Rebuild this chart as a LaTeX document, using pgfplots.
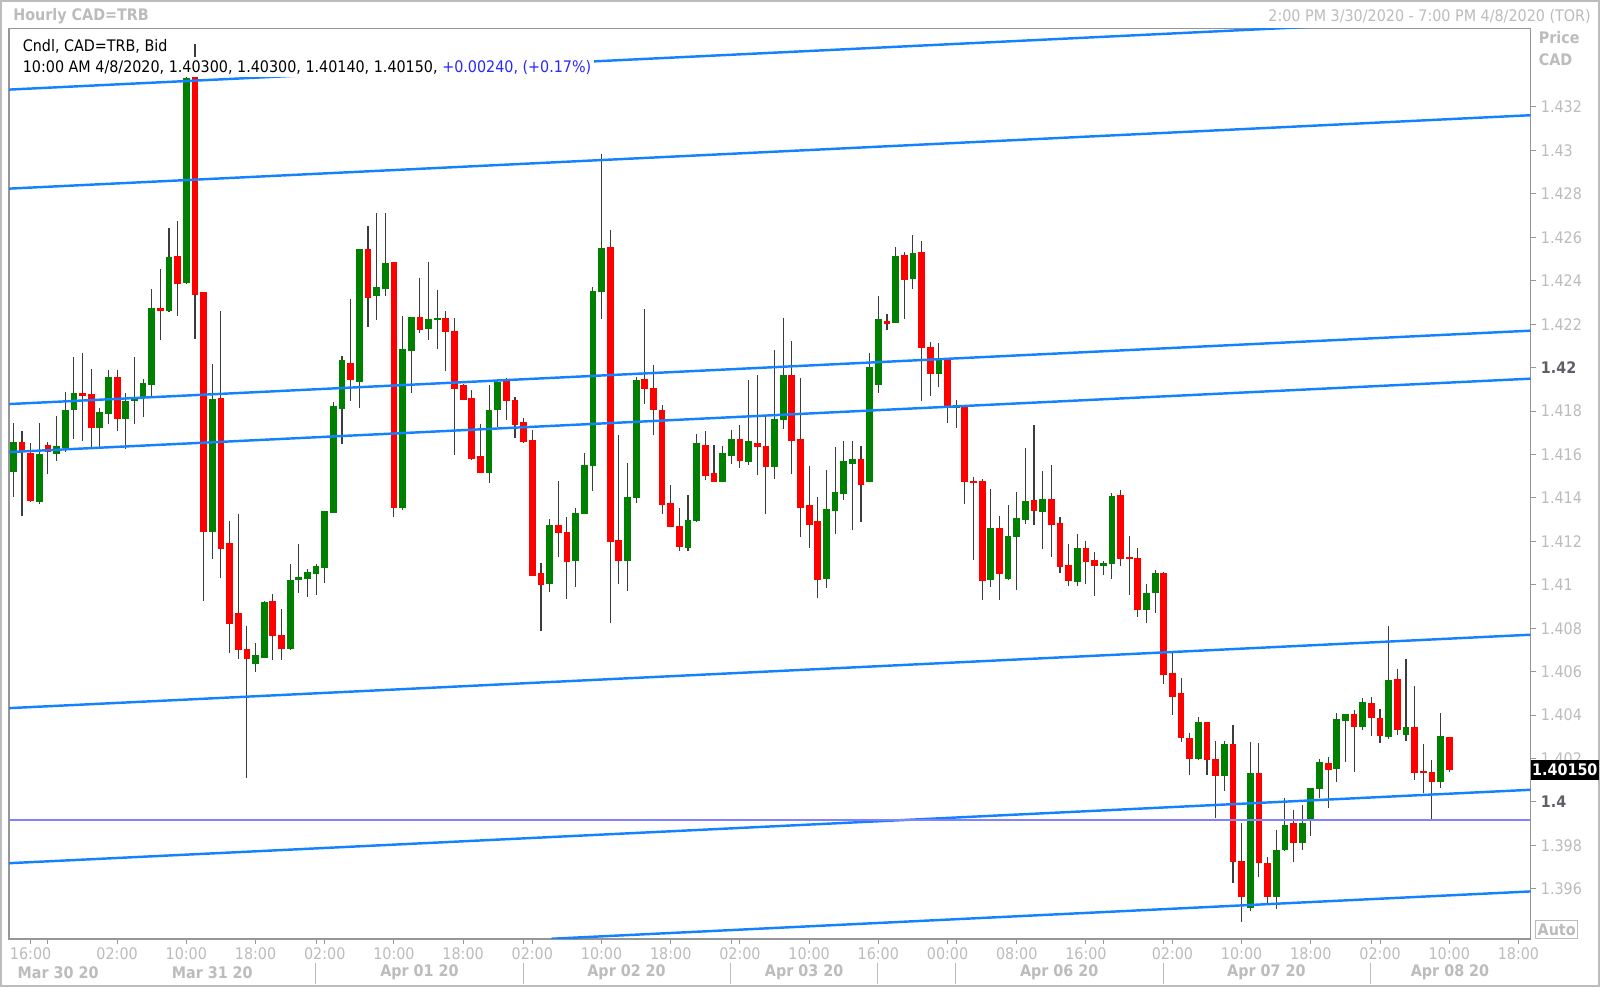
\documentclass[border=0pt]{standalone}
\usepackage{fontspec}
\setmainfont{DejaVu Sans}[FakeStretch=0.9]
\usepackage{pgfplots}
\usepackage{pgfplotstable}
\pgfplotsset{compat=1.18}
\definecolor{cgreen}{RGB}{0,128,0}
\definecolor{cred}{RGB}{255,0,0}
\definecolor{wick}{RGB}{60,60,60}
\definecolor{lblue}{RGB}{20,130,255}
\definecolor{lpurple}{RGB}{130,130,255}
\definecolor{lgray}{RGB}{188,188,188}
\definecolor{mgray}{RGB}{150,150,150}
\definecolor{dgray}{RGB}{95,95,105}
\definecolor{legblue}{RGB}{40,40,255}
\newcommand\sz{\fontsize{7.8pt}{9pt}\selectfont}

\pgfplotstableread{
x o h l c
0 1.41523 1.41745 1.41403 1.41658
1 1.41658 1.41708 1.41316 1.41614
2 1.41603 1.41651 1.41382 1.41388
3 1.41382 1.41745 1.41375 1.41599
4 1.41643 1.41658 1.41512 1.41614
5 1.41603 1.41779 1.41571 1.41638
6 1.41631 1.41888 1.41614 1.41805
7 1.41805 1.42049 1.41671 1.41881
8 1.41881 1.42066 1.41664 1.41873
9 1.41877 1.41994 1.41627 1.41725
10 1.41725 1.41816 1.41627 1.41795
11 1.41790 1.41990 1.41740 1.41955
12 1.41955 1.41990 1.41710 1.41766
13 1.41768 1.41882 1.41627 1.41847
14 1.41847 1.42049 1.41740 1.41860
15 1.41866 1.41947 1.41773 1.41929
16 1.41925 1.42364 1.41871 1.42275
17 1.42271 1.42457 1.42127 1.42264
18 1.42264 1.42642 1.42255 1.42507
19 1.42512 1.42675 1.42240 1.42388
20 1.42392 1.43340 1.42385 1.43333
21 1.43338 1.43490 1.42131 1.42338
22 1.42345 1.42345 1.40925 1.41247
23 1.41247 1.42016 1.41121 1.41853
24 1.41860 1.42262 1.41034 1.41169
25 1.41193 1.41295 1.40686 1.40821
26 1.40867 1.41327 1.40660 1.40704
27 1.40704 1.40812 1.40112 1.40660
28 1.40638 1.40735 1.40600 1.40673
29 1.40666 1.40927 1.40666 1.40919
30 1.40924 1.40956 1.40653 1.40767
31 1.40766 1.40888 1.40653 1.40707
32 1.40707 1.41096 1.40703 1.41019
33 1.41025 1.41188 1.40961 1.41034
34 1.41030 1.41071 1.40942 1.41056
35 1.41052 1.41096 1.40956 1.41083
36 1.41079 1.41341 1.41010 1.41337
37 1.41334 1.41842 1.41334 1.41820
38 1.41813 1.42054 1.41648 1.42035
39 1.42021 1.42319 1.41848 1.41943
40 1.41935 1.42545 1.41816 1.42545
41 1.42545 1.42655 1.42189 1.42324
42 1.42330 1.42711 1.42222 1.42370
43 1.42364 1.42714 1.42330 1.42483
44 1.42483 1.42483 1.41314 1.41355
45 1.41355 1.42238 1.41344 1.42084
46 1.42081 1.42235 1.41882 1.42230
47 1.42233 1.42413 1.42161 1.42173
48 1.42178 1.42486 1.42127 1.42222
49 1.42221 1.42357 1.42084 1.42229
50 1.42229 1.42262 1.41986 1.42167
51 1.42170 1.42229 1.41598 1.41905
52 1.41920 1.41923 1.41851 1.41855
53 1.41859 1.41897 1.41575 1.41582
54 1.41590 1.41743 1.41518 1.41518
55 1.41515 1.41920 1.41470 1.41805
56 1.41808 1.41951 1.41728 1.41935
57 1.41935 1.41955 1.41759 1.41848
58 1.41850 1.41866 1.41674 1.41740
59 1.41748 1.41771 1.41654 1.41659
60 1.41666 1.41712 1.41045 1.41045
61 1.41052 1.41099 1.40789 1.41003
62 1.41006 1.41306 1.40968 1.41275
63 1.41275 1.41479 1.41129 1.41240
64 1.41244 1.41313 1.40937 1.41106
65 1.41111 1.41352 1.40988 1.41332
66 1.41329 1.41608 1.41329 1.41551
67 1.41548 1.42373 1.41433 1.42349
68 1.42349 1.42984 1.42222 1.42549
69 1.42552 1.42634 1.40826 1.41201
70 1.41206 1.41689 1.41006 1.41114
71 1.41114 1.41559 1.40973 1.41402
72 1.41402 1.41955 1.41378 1.41943
73 1.41943 1.42273 1.41835 1.41904
74 1.41904 1.42012 1.41689 1.41808
75 1.41802 1.41828 1.41326 1.41372
76 1.41372 1.41459 1.41267 1.41267
77 1.41270 1.41352 1.41157 1.41175
78 1.41175 1.41413 1.41157 1.41298
79 1.41295 1.41694 1.41290 1.41651
80 1.41643 1.41709 1.41482 1.41505
81 1.41513 1.41643 1.41475 1.41475
82 1.41475 1.41639 1.41475 1.41605
83 1.41597 1.41715 1.41556 1.41669
84 1.41669 1.41735 1.41536 1.41574
85 1.41567 1.41943 1.41551 1.41659
86 1.41651 1.41966 1.41505 1.41639
87 1.41639 1.41782 1.41329 1.41547
88 1.41547 1.42084 1.41490 1.41764
89 1.41762 1.42232 1.41721 1.41966
90 1.41966 1.42123 1.41509 1.41667
91 1.41671 1.41955 1.41219 1.41357
92 1.41367 1.41547 1.41168 1.41280
93 1.41294 1.41406 1.40938 1.41027
94 1.41027 1.41529 1.40987 1.41348
95 1.41342 1.41636 1.41234 1.41426
96 1.41421 1.41664 1.41391 1.41567
97 1.41559 1.41664 1.41255 1.41579
98 1.41579 1.41639 1.41291 1.41460
99 1.41475 1.42066 1.41475 1.42000
100 1.41925 1.42330 1.41882 1.42224
101 1.42215 1.42250 1.42173 1.42204
102 1.42207 1.42557 1.42207 1.42514
103 1.42519 1.42531 1.42224 1.42408
104 1.42408 1.42614 1.42365 1.42526
105 1.42531 1.42583 1.41846 1.42094
106 1.42094 1.42120 1.41869 1.41974
107 1.41971 1.42112 1.41909 1.42038
108 1.42038 1.42038 1.41744 1.41816
109 1.41816 1.41851 1.41721 1.41828
110 1.41828 1.41828 1.41375 1.41475
111 1.41478 1.41498 1.41114 1.41470
112 1.41478 1.41486 1.40930 1.41022
113 1.41025 1.41440 1.40991 1.41260
114 1.41260 1.41317 1.40930 1.41053
115 1.41030 1.41367 1.41022 1.41225
116 1.41223 1.41426 1.40975 1.41308
117 1.41302 1.41632 1.41282 1.41386
118 1.41391 1.41736 1.41277 1.41344
119 1.41336 1.41526 1.41165 1.41395
120 1.41395 1.41554 1.41129 1.41277
121 1.41285 1.41313 1.41056 1.41084
122 1.41090 1.41188 1.40997 1.41022
123 1.41017 1.41235 1.40997 1.41170
124 1.41170 1.41204 1.41005 1.41107
125 1.41111 1.41153 1.40947 1.41090
126 1.41090 1.41111 1.41048 1.41100
127 1.41098 1.41422 1.41028 1.41409
128 1.41411 1.41437 1.41087 1.41123
129 1.41128 1.41227 1.40954 1.41122
130 1.41122 1.41170 1.40851 1.40888
131 1.40888 1.41005 1.40823 1.40963
132 1.40963 1.41067 1.40869 1.41051
133 1.41051 1.41061 1.40543 1.40589
134 1.40593 1.40691 1.40400 1.40488
135 1.40499 1.40574 1.40278 1.40297
136 1.40294 1.40317 1.40123 1.40200
137 1.40200 1.40390 1.40193 1.40367
138 1.40367 1.40367 1.40126 1.40196
139 1.40197 1.40281 1.39928 1.40123
140 1.40123 1.40281 1.40053 1.40266
141 1.40266 1.40356 1.39628 1.39726
142 1.39726 1.39905 1.39450 1.39564
143 1.39515 1.40277 1.39497 1.40132
144 1.40132 1.40270 1.39656 1.39720
145 1.39720 1.39748 1.39525 1.39564
146 1.39564 1.39874 1.39510 1.39776
147 1.39782 1.40021 1.39776 1.39894
148 1.39901 1.39963 1.39725 1.39812
149 1.39812 1.39986 1.39779 1.39901
150 1.39917 1.40067 1.39843 1.40063
151 1.40063 1.40196 1.40017 1.40185
152 1.40178 1.40208 1.39971 1.40150
153 1.40155 1.40408 1.40093 1.40380
154 1.40377 1.40408 1.40185 1.40403
155 1.40405 1.40423 1.40139 1.40347
156 1.40347 1.40477 1.40334 1.40459
157 1.40454 1.40482 1.40304 1.40388
158 1.40385 1.40428 1.40273 1.40305
159 1.40300 1.40810 1.40293 1.40562
160 1.40562 1.40615 1.40308 1.40334
161 1.40313 1.40661 1.40282 1.40342
162 1.40344 1.40534 1.40101 1.40136
163 1.40139 1.40267 1.40040 1.40136
164 1.40135 1.40193 1.39914 1.40093
165 1.40093 1.40411 1.40063 1.40300
166 1.40300 1.40300 1.40140 1.40150
}\candles

\begin{document}
\begin{tikzpicture}
\path[use as bounding box] (0,0) rectangle (784pt,-483.5pt);
\fill[white] (0,0) rectangle (784pt,-483.5pt);
\begin{axis}[
  at={(4.5pt,-14pt)}, anchor=north west,
  scale only axis, width=745.5pt, height=446pt,
  xmin=-0.48, xmax=175.41, ymin=1.39370, ymax=1.43561,
  axis line style={draw=mgray, line width=0.8pt},
  tick align=outside, major tick length=2.5pt,
  tick style={draw=mgray, line width=0.5pt},
  ytick pos=right, yticklabel pos=right, xtick pos=bottom,
  ticklabel style={font=\sz, text=lgray},
  xticklabel style={yshift=1.5pt},
  yticklabel style={xshift=-1pt},
  ytick={1.396,1.398,1.4,1.402,1.404,1.406,1.408,1.41,1.412,1.414,1.416,1.418,1.42,1.422,1.424,1.426,1.428,1.43,1.432},
  yticklabels={1.396,1.398,{\textbf{\textcolor{dgray}{1.4}}},1.402,1.404,1.406,1.408,1.41,1.412,1.414,1.416,1.418,{\textbf{\textcolor{dgray}{1.42}}},1.422,1.424,1.426,1.428,1.43,1.432},
  xtick={2,12,20,28,36,44,52,60,68,76,84,92,100,108,116,124,134,142,150,158,166,174},
  xticklabels={16:00,02:00,10:00,18:00,02:00,10:00,18:00,02:00,10:00,18:00,02:00,10:00,16:00,00:00,08:00,16:00,02:00,10:00,18:00,02:00,10:00,18:00},
  extra x ticks={4,35,59,83,109,126,133,157}, extra x tick labels={},
  extra x tick style={tick style={draw=mgray, line width=0.5pt}},
]
% wicks
\addplot[draw=none, mark=none, forget plot,
  error bars/.cd, y dir=both, y explicit, error mark=none,
  error bar style={draw=wick, line width=0.55pt}]
  table[x=x, y expr={(\thisrow{h}+\thisrow{l})/2}, y error expr={(\thisrow{h}-\thisrow{l})/2}] {\candles};
% up bodies
\addplot[draw=none, mark=none, forget plot,
  error bars/.cd, y dir=both, y explicit, error mark=none,
  error bar style={draw=cgreen, line width=3.3pt}]
  table[x=x, y expr={\thisrow{c}>=\thisrow{o} ? (\thisrow{o}+\thisrow{c})/2 : nan}, y error expr={abs(\thisrow{c}-\thisrow{o})/2+0.00002}] {\candles};
% down bodies
\addplot[draw=none, mark=none, forget plot,
  error bars/.cd, y dir=both, y explicit, error mark=none,
  error bar style={draw=cred, line width=3.3pt}]
  table[x=x, y expr={\thisrow{c}<\thisrow{o} ? (\thisrow{o}+\thisrow{c})/2 : nan}, y error expr={abs(\thisrow{c}-\thisrow{o})/2+0.00002}] {\candles};
% channel lines
\addplot[lblue, line width=1.2pt] coordinates {(-0.48,1.43280) (175.41,1.43618)};
\addplot[lblue, line width=1.2pt] coordinates {(-0.48,1.42824) (175.41,1.43162)};
\addplot[lblue, line width=1.2pt] coordinates {(-0.48,1.41832) (175.41,1.42170)};
\addplot[lblue, line width=1.2pt] coordinates {(-0.48,1.41611) (175.41,1.41949)};
\addplot[lblue, line width=1.2pt] coordinates {(-0.48,1.40432) (175.41,1.40770)};
\addplot[lblue, line width=1.2pt] coordinates {(-0.48,1.39718) (175.41,1.40056)};
\addplot[lblue, line width=1.2pt] coordinates {(62.2,1.39370) (175.41,1.39588)};
\addplot[lpurple, line width=1pt] coordinates {(-0.48,1.39915) (175.41,1.39915)};
\end{axis}
\begin{scope}[x=0.5pt,y=-0.5pt]
\draw[lgray, line width=1pt] (0.5,0.5) rectangle (1567.5,966.5);
\node[anchor=west, font=\sz\bfseries, text=lgray] at (6,16) {Hourly CAD=TRB};
\node[anchor=east, font=\sz, text=lgray] at (1566,16) {2:00 PM 3/30/2020 - 7:00 PM 4/8/2020 (TOR)};
\node[anchor=west, fill=white, inner sep=1.5pt, font=\sz] at (19,45) {Cndl, CAD=TRB, Bid};
\node[anchor=west, fill=white, inner sep=1.5pt, font=\sz] at (19,66) {10:00 AM 4/8/2020, 1.40300, 1.40300, 1.40140, 1.40150, \textcolor{legblue}{+0.00240, (+0.17\%)}};
\node[anchor=west, font=\sz\bfseries, text=lgray] at (1501,37) {Price};
\node[anchor=west, font=\sz\bfseries, text=lgray] at (1501,59) {CAD};
\fill[black] (1500,745) rectangle (1567,764);
\node[font=\sz\bfseries, text=white] at (1533.5,754.5) {1.40150};
\draw[lgray, line width=0.6pt] (1505,902) rectangle (1546,920);
\node[font=\sz\bfseries, text=lgray] at (1525.5,911) {Auto};
\foreach \xx/\tt in {57/Mar 30 20, 208/Mar 31 20, 411/Apr 01 20, 614/Apr 02 20, 788/Apr 03 20, 1038/Apr 06 20, 1241/Apr 07 20, 1421/Apr 08 20}
  \node[font=\sz\bfseries, text=lgray] at (\xx,953) {\tt};
\foreach \xx in {309,513,716,860,936,1140,1343}
  \draw[lgray, line width=0.5pt] (\xx,944) -- (\xx,964);
\end{scope}
\end{tikzpicture}
\end{document}
